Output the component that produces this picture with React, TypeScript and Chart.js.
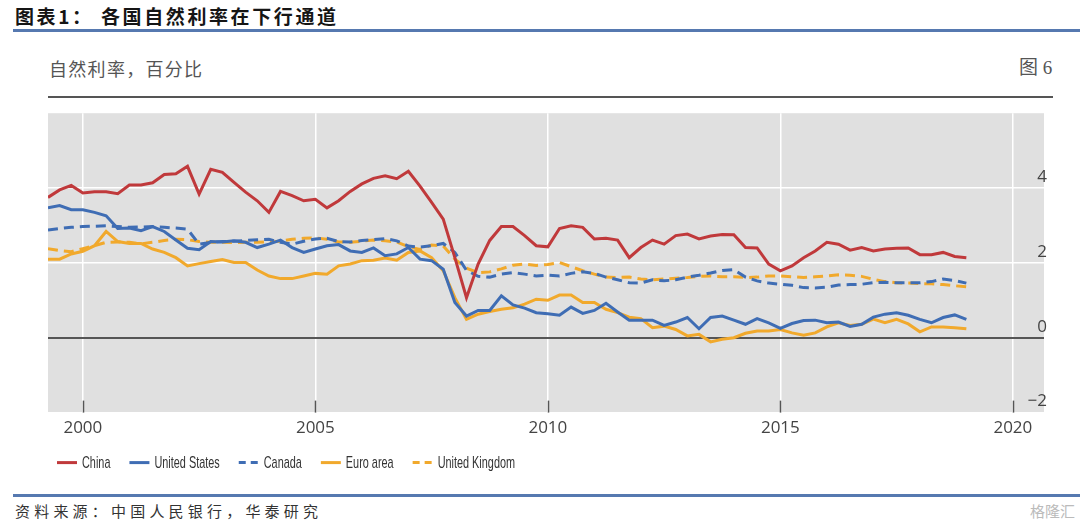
import React, { useEffect, useRef } from 'react';
import { Chart, registerables } from 'chart.js';

Chart.register(...registerables);

const quarters = [
  1999.25, 1999.5, 1999.75,
  2000, 2000.25, 2000.5, 2000.75,
  2001, 2001.25, 2001.5, 2001.75,
  2002, 2002.25, 2002.5, 2002.75,
  2003, 2003.25, 2003.5, 2003.75,
  2004, 2004.25, 2004.5, 2004.75,
  2005, 2005.25, 2005.5, 2005.75,
  2006, 2006.25, 2006.5, 2006.75,
  2007, 2007.25, 2007.5, 2007.75,
  2008, 2008.25, 2008.5, 2008.75,
  2009, 2009.25, 2009.5, 2009.75,
  2010, 2010.25, 2010.5, 2010.75,
  2011, 2011.25, 2011.5, 2011.75,
  2012, 2012.25, 2012.5, 2012.75,
  2013, 2013.25, 2013.5, 2013.75,
  2014, 2014.25, 2014.5, 2014.75,
  2015, 2015.25, 2015.5, 2015.75,
  2016, 2016.25, 2016.5, 2016.75,
  2017, 2017.25, 2017.5, 2017.75,
  2018, 2018.25, 2018.5, 2018.75,
  2019,
];

const china = [
  3.75, 3.95, 4.07,
  3.87, 3.90, 3.90, 3.85,
  4.08, 4.08, 4.14, 4.36,
  4.38, 4.58, 3.84, 4.50,
  4.42, 4.15, 3.89, 3.66,
  3.35, 3.91, 3.80, 3.66,
  3.70, 3.47, 3.66, 3.91,
  4.11, 4.26, 4.33, 4.25,
  4.45, 4.05, 3.62, 3.17,
  2.14, 1.07, 1.97, 2.60,
  2.97, 2.97, 2.73, 2.46,
  2.43, 2.92, 2.99, 2.95,
  2.64, 2.66, 2.61, 2.14,
  2.41, 2.61, 2.50, 2.73,
  2.77, 2.64, 2.72, 2.76,
  2.75, 2.41, 2.40, 1.97,
  1.79, 1.92, 2.14, 2.32,
  2.55, 2.50, 2.34, 2.41,
  2.32, 2.37, 2.39, 2.40,
  2.22, 2.22, 2.28, 2.17,
  2.14,
];

const unitedStates = [
  3.47, 3.53, 3.42,
  3.42, 3.35, 3.26, 2.92,
  2.93, 2.86, 2.97, 2.84,
  2.61, 2.39, 2.35, 2.57,
  2.56, 2.59, 2.55, 2.41,
  2.50, 2.61, 2.41, 2.28,
  2.37, 2.46, 2.49, 2.32,
  2.28, 2.40, 2.19, 2.24,
  2.41, 2.10, 2.06, 1.83,
  0.94, 0.58, 0.73, 0.73,
  1.12, 0.88, 0.79, 0.67,
  0.64, 0.60, 0.82, 0.65,
  0.73, 0.92, 0.69, 0.47,
  0.47, 0.47, 0.33, 0.42,
  0.54, 0.24, 0.54, 0.58,
  0.47, 0.36, 0.51, 0.40,
  0.25, 0.38, 0.46, 0.47,
  0.40, 0.42, 0.30, 0.36,
  0.55, 0.63, 0.67, 0.60,
  0.49, 0.40, 0.54, 0.61,
  0.49,
];

const canada = [
  2.88, 2.92, 2.95,
  2.97, 2.98, 2.99, 2.97,
  2.95, 2.96, 2.97, 2.95,
  2.93, 2.90, 2.50, 2.55,
  2.57, 2.58, 2.60, 2.62,
  2.63, 2.55, 2.50, 2.58,
  2.64, 2.66, 2.57, 2.56,
  2.60, 2.62, 2.65, 2.59,
  2.45, 2.42, 2.46, 2.52,
  2.28, 1.80, 1.64, 1.62,
  1.70, 1.74, 1.70, 1.65,
  1.67, 1.65, 1.72, 1.76,
  1.72, 1.62, 1.55, 1.47,
  1.46, 1.55, 1.52, 1.55,
  1.62, 1.67, 1.73, 1.80,
  1.82, 1.62, 1.52, 1.46,
  1.43, 1.40, 1.34, 1.33,
  1.35, 1.41, 1.42, 1.43,
  1.47, 1.48, 1.47, 1.47,
  1.47, 1.50, 1.57, 1.53,
  1.46,
];

const euroArea = [
  2.10, 2.10, 2.24,
  2.31, 2.46, 2.84, 2.57,
  2.52, 2.52, 2.37, 2.28,
  2.14, 1.92, 1.98, 2.04,
  2.09, 2.01, 2.01, 1.81,
  1.65, 1.58, 1.58, 1.65,
  1.72, 1.70, 1.92, 1.97,
  2.06, 2.07, 2.13, 2.07,
  2.28, 2.32, 2.14, 1.79,
  1.07, 0.49, 0.63, 0.70,
  0.76, 0.80, 0.90, 1.03,
  1.00, 1.14, 1.14, 0.94,
  0.94, 0.76, 0.67, 0.55,
  0.51, 0.27, 0.31, 0.22,
  0.05, 0.09, -0.11, -0.04,
  0.00, 0.12, 0.18, 0.18,
  0.22, 0.13, 0.07, 0.13,
  0.29, 0.40, 0.33, 0.36,
  0.50, 0.40, 0.49, 0.37,
  0.16, 0.29, 0.29, 0.27,
  0.24,
];

const unitedKingdom = [
  2.38, 2.33, 2.30,
  2.38, 2.46, 2.55, 2.56,
  2.55, 2.51, 2.55, 2.60,
  2.63, 2.62, 2.57, 2.55,
  2.55, 2.54, 2.55, 2.55,
  2.56, 2.58, 2.63, 2.66,
  2.67, 2.63, 2.56, 2.55,
  2.58, 2.61, 2.59, 2.56,
  2.43, 2.36, 2.48, 2.45,
  2.10, 1.86, 1.74, 1.76,
  1.84, 1.94, 1.97, 1.93,
  1.96, 2.01, 1.90, 1.79,
  1.70, 1.62, 1.61, 1.62,
  1.57, 1.55, 1.57, 1.59,
  1.61, 1.64, 1.65, 1.63,
  1.63, 1.61, 1.62, 1.65,
  1.65, 1.63, 1.61, 1.63,
  1.65, 1.68, 1.67, 1.64,
  1.56, 1.50, 1.47, 1.46,
  1.45, 1.44, 1.42, 1.39,
  1.36,
];

const seriesNames = ['China', 'United States', 'Canada', 'Euro area', 'United Kingdom'];
const xTickValues = [2000, 2005, 2010, 2015, 2020];
const yTickValues = [-2, 0, 2, 4];

const RED = '#c0393b';
const BLUE = '#3f6db4';
const ORANGE = '#f1a92c';
const PLOT_BG = '#e0e0e0';
const LINE_DASH = [10, 6];

const toPoints = (vals: number[]) => vals.map((v, i) => ({ x: quarters[i], y: v }));

const plotBackground = {
  id: 'plotBackground',
  beforeDraw(chart: any) {
    const { ctx, chartArea: a } = chart;
    ctx.save();
    ctx.fillStyle = PLOT_BG;
    ctx.fillRect(a.left, a.top, a.right - a.left, a.bottom - a.top);
    ctx.restore();
  },
  beforeDatasetsDraw(chart: any) {
    const { ctx, chartArea: a } = chart;
    const xs = chart.scales.x;
    ctx.save();
    ctx.strokeStyle = '#555555';
    ctx.lineWidth = 1.5;
    xs.ticks.forEach((t: any) => {
      const px = Math.round(xs.getPixelForValue(t.value)) + 0.5;
      ctx.beginPath();
      ctx.moveTo(px, a.bottom - 12);
      ctx.lineTo(px, a.bottom);
      ctx.stroke();
    });
    ctx.restore();
  },
};

// Legend drawn in a condensed face (horizontally scaled), like the original's condensed sans.
const condensedLegend = {
  id: 'condensedLegend',
  afterDraw(chart: any) {
    const { ctx, chartArea } = chart;
    const y = chartArea.bottom + 50;
    const SX = 0.64;
    let x = 57;
    ctx.save();
    ctx.font = '17px "Liberation Sans", Arial, sans-serif';
    ctx.textBaseline = 'middle';
    ctx.textAlign = 'left';
    chart.data.datasets.forEach((ds: any) => {
      ctx.save();
      ctx.strokeStyle = ds.borderColor;
      ctx.lineWidth = 3;
      ctx.setLineDash(ds.borderDash && ds.borderDash.length ? [7, 5] : []);
      ctx.beginPath();
      ctx.moveTo(x, y);
      ctx.lineTo(x + 20, y);
      ctx.stroke();
      ctx.restore();
      const tx = x + 25;
      ctx.save();
      ctx.translate(tx, y + 1);
      ctx.scale(SX, 1);
      ctx.fillStyle = '#333333';
      ctx.fillText(ds.label, 0, 0);
      ctx.restore();
      x = tx + ctx.measureText(ds.label).width * SX + 19;
    });
    ctx.restore();
  },
};

const tickFont = { family: '"Open Sans", "DejaVu Sans", sans-serif', size: 17 };

export default function App() {
  const canvasRef = useRef<HTMLCanvasElement>(null);

  useEffect(() => {
    const canvas = canvasRef.current;
    if (!canvas) return;
    const mk = (label: string, data: number[], color: string, dashed: boolean) => ({
      label,
      data: toPoints(data),
      borderColor: color,
      backgroundColor: color,
      borderWidth: 3,
      borderDash: dashed ? LINE_DASH : [],
      pointRadius: 0,
      tension: 0,
      fill: false,
    });
    const chart = new Chart(canvas, {
      type: 'line',
      data: {
        datasets: [
          mk(seriesNames[0], china, RED, false),
          mk(seriesNames[1], unitedStates, BLUE, false),
          mk(seriesNames[2], canada, BLUE, true),
          mk(seriesNames[3], euroArea, ORANGE, false),
          mk(seriesNames[4], unitedKingdom, ORANGE, true),
        ],
      },
      options: {
        responsive: false,
        animation: false,
        devicePixelRatio: 1,
        layout: { padding: { left: 48, right: 30, top: 13, bottom: 37 } },
        plugins: {
          tooltip: { enabled: false },
          legend: { display: false },
        },
        scales: {
          x: {
            type: 'linear',
            min: 1999.25,
            max: 2020.67,
            afterBuildTicks: (scale: any) => {
              scale.ticks = xTickValues.map((v) => ({ value: v }));
            },
            grid: { color: '#ffffff', lineWidth: 1.5, drawTicks: false },
            border: { display: false },
            ticks: {
              color: '#444444',
              font: tickFont,
              padding: 5,
              maxRotation: 0,
              callback: (v: any) => String(v),
            },
          },
          y: {
            type: 'linear',
            position: 'right',
            min: -2,
            max: 6,
            afterBuildTicks: (scale: any) => {
              scale.ticks = yTickValues.map((v) => ({ value: v }));
            },
            grid: {
              color: (c: any) => (c.tick && c.tick.value === 0 ? '#555555' : '#ffffff'),
              lineWidth: (c: any) => (c.tick && c.tick.value === 0 ? 2 : 1.5),
              drawTicks: false,
            },
            border: { display: false },
            ticks: {
              mirror: true,
              padding: 3,
              labelOffset: -11,
              color: '#444444',
              font: tickFont,
              callback: (v: any) => (v < 0 ? '\u2212' + Math.abs(v) : String(v)),
            },
          },
        },
      },
      plugins: [plotBackground, condensedLegend],
    } as any);
    return () => chart.destroy();
  }, []);

  const cjk = '"Noto Sans CJK SC", "Noto Sans", sans-serif';

  return (
    <div style={{ position: 'fixed', left: 0, top: 0, width: 1080, height: 530, background: '#ffffff', overflow: 'hidden' }}>
      <div style={{ position: 'absolute', left: 15, top: 3, fontFamily: cjk, fontWeight: 700, fontSize: 19, letterSpacing: 2.6, color: '#151515', whiteSpace: 'nowrap', lineHeight: '26px' }}>图表1：</div>
      <div style={{ position: 'absolute', left: 101, top: 3, fontFamily: cjk, fontWeight: 700, fontSize: 19, letterSpacing: 2.6, color: '#151515', whiteSpace: 'nowrap', lineHeight: '26px' }}>各国自然利率在下行通道</div>
      <div style={{ position: 'absolute', left: 13, top: 29, width: 1067, height: 2.5, background: '#5679b0' }} />
      <div style={{ position: 'absolute', left: 49, top: 54, fontFamily: cjk, fontSize: 18, color: '#555555', whiteSpace: 'nowrap', lineHeight: '28px', letterSpacing: 1.3 }}>自然利率，百分比</div>
      <div style={{ position: 'absolute', left: 1019, top: 54, fontFamily: '"Liberation Serif", ' + cjk, fontSize: 19, color: '#555555', whiteSpace: 'nowrap', lineHeight: '28px' }}>图 6</div>
      <div style={{ position: 'absolute', left: 48, top: 96, width: 1005, height: 1.5, background: '#555555' }} />
      <canvas ref={canvasRef} width={1080} height={380} style={{ position: 'absolute', left: 0, top: 100, width: 1080, height: 380 }} />
      <div style={{ position: 'absolute', left: 13, top: 494, width: 1067, height: 2.5, background: '#5679b0' }} />
      <div style={{ position: 'absolute', left: 15, top: 500, fontFamily: cjk, fontSize: 15, letterSpacing: 4.2, color: '#333333', whiteSpace: 'nowrap', lineHeight: '22px' }}>资料来源：中国人民银行，华泰研究</div>
      <div style={{ position: 'absolute', left: 1030, top: 501, fontFamily: cjk, fontSize: 15, color: '#bbbbbb', whiteSpace: 'nowrap', lineHeight: '20px' }}>格隆汇</div>
    </div>
  );
}
